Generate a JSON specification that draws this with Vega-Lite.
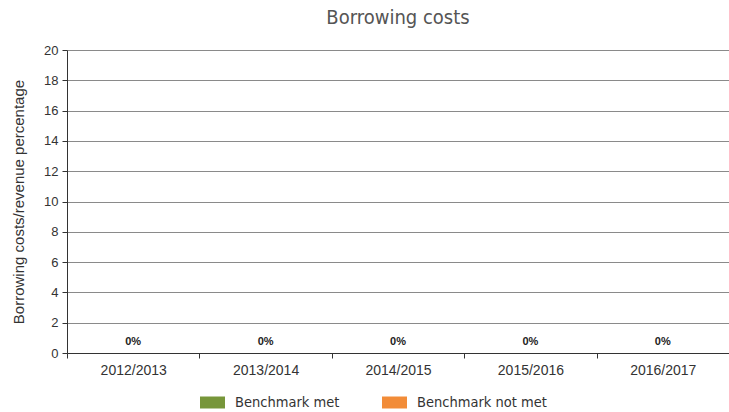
{
  "$schema": "https://vega.github.io/schema/vega-lite/v6.json",
  "autosize": "none",
  "width": 662,
  "height": 303,
  "padding": {"left": 67, "top": 50, "right": 0, "bottom": 59},
  "background": "white",
  "title": {
    "text": "Borrowing costs",
    "font": "DejaVu Sans Condensed, Roboto, sans-serif",
    "fontSize": 20,
    "fontWeight": "normal",
    "color": "#555555",
    "anchor": "middle",
    "offset": 16
  },
  "data": {
    "values": [
      {"year": "2012/2013", "value": 0, "status": "Benchmark met", "label": "0%"},
      {"year": "2013/2014", "value": 0, "status": "Benchmark met", "label": "0%"},
      {"year": "2014/2015", "value": 0, "status": "Benchmark met", "label": "0%"},
      {"year": "2015/2016", "value": 0, "status": "Benchmark met", "label": "0%"},
      {"year": "2016/2017", "value": 0, "status": "Benchmark met", "label": "0%"}
    ]
  },
  "config": {
    "view": {"stroke": null},
    "axis": {
      "labelFont": "Liberation Sans",
      "titleFont": "Liberation Sans",
      "labelColor": "#333333",
      "titleColor": "#333333"
    }
  },
  "encoding": {
    "x": {
      "field": "year",
      "type": "nominal",
      "sort": null,
      "scale": {"paddingInner": 0, "paddingOuter": 0},
      "axis": {
        "title": null,
        "labelAngle": 0,
        "labelFontSize": 14,
        "labelPadding": 5,
        "tickBand": "extent",
        "tickSize": 5,
        "tickColor": "#333333",
        "domainColor": "#333333",
        "grid": false
      }
    },
    "y": {
      "field": "value",
      "type": "quantitative",
      "scale": {"domain": [0, 20], "nice": false},
      "axis": {
        "title": "Borrowing costs/revenue percentage",
        "titleFontSize": 15,
        "titleFontWeight": "normal",
        "titlePadding": 17,
        "values": [0, 2, 4, 6, 8, 10, 12, 14, 16, 18, 20],
        "labelFontSize": 13,
        "labelPadding": 4,
        "tickSize": 5,
        "tickColor": "#333333",
        "domainColor": "#333333",
        "gridColor": "#8a8a8a",
        "gridWidth": 1.2,
        "grid": true
      }
    }
  },
  "layer": [
    {
      "mark": {"type": "bar"},
      "encoding": {
        "color": {
          "field": "status",
          "type": "nominal",
          "scale": {
            "domain": ["Benchmark met", "Benchmark not met"],
            "range": ["#77963a", "#f28c38"]
          },
          "legend": {
            "title": null,
            "orient": "none",
            "direction": "horizontal",
            "legendX": 133,
            "legendY": 340,
            "symbolType": "M-1,-0.48H1V0.48H-1Z",
            "symbolSize": 625,
            "symbolOpacity": 1,
            "symbolStrokeWidth": 0,
            "labelFont": "DejaVu Sans Condensed, Roboto, sans-serif",
            "labelFontSize": 14.5,
            "labelColor": "#333333",
            "labelOffset": 10,
            "columnPadding": 42
          }
        }
      }
    },
    {
      "mark": {
        "type": "text",
        "fontWeight": "bold",
        "fontSize": 11,
        "font": "Liberation Sans",
        "color": "#222222",
        "baseline": "bottom",
        "dy": -6
      },
      "encoding": {
        "text": {"field": "label"}
      }
    }
  ]
}
